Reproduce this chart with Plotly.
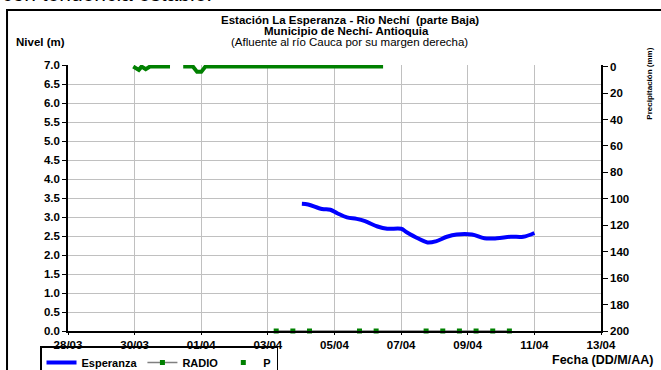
import plotly.graph_objects as go

# --- DATA ---
# Esperanza level (m)
esp_time = [
    "2011-04-04 00:30", "2011-04-04 05:00", "2011-04-04 15:00", "2011-04-04 21:00",
    "2011-04-05 02:00", "2011-04-05 09:00", "2011-04-05 16:00", "2011-04-05 22:00",
    "2011-04-06 07:00", "2011-04-06 14:00", "2011-04-07 00:00", "2011-04-07 04:00",
    "2011-04-07 12:00", "2011-04-07 19:00", "2011-04-08 01:00", "2011-04-08 09:00",
    "2011-04-08 16:00", "2011-04-09 03:00", "2011-04-09 12:00", "2011-04-09 21:00",
    "2011-04-10 07:00", "2011-04-10 16:00", "2011-04-11 00:00",
]
esp_level = [
    3.35, 3.33, 3.21, 3.19, 3.10, 2.99, 2.95, 2.89, 2.75, 2.69, 2.69, 2.60,
    2.44, 2.33, 2.36, 2.48, 2.54, 2.54, 2.44, 2.44, 2.48, 2.48, 2.58,
]

# RADIO readings (plotted at 0 m)
radio_time = [
    "2011-04-03 06:00", "2011-04-03 18:00", "2011-04-04 06:00", "2011-04-05 18:00",
    "2011-04-06 06:00", "2011-04-07 18:00", "2011-04-08 06:00", "2011-04-08 18:00",
    "2011-04-09 06:00", "2011-04-09 18:00", "2011-04-10 06:00",
]
radio_level = [0, 0, 0, 0, 0, 0, 0, 0, 0, 0, 0]

# Precipitation P (mm), two recorded stretches
p_time_a = ["2011-03-29 23:00", "2011-03-30 03:00", "2011-03-30 05:00",
            "2011-03-30 08:00", "2011-03-30 11:00", "2011-03-31 01:30"]
p_mm_a = [0, 2.5, 0, 2.0, 0, 0]
p_time_b = ["2011-03-31 11:00", "2011-03-31 18:00", "2011-03-31 21:00",
            "2011-04-01 00:00", "2011-04-01 03:00", "2011-04-06 11:00"]
p_mm_b = [0, 0, 4.0, 4.0, 0, 0]

x_range = ["2011-03-28", "2011-04-13"]
left_ticks = [0, 0.5, 1, 1.5, 2, 2.5, 3, 3.5, 4, 4.5, 5, 5.5, 6, 6.5, 7]
right_ticks = [0, 20, 40, 60, 80, 100, 120, 140, 160, 180, 200]

FONT = "Arial, Liberation Sans, sans-serif"
GREEN = "#008000"
BLUE = "#0000FF"
BOLD = dict(family=FONT, size=11.5, color="black", weight="bold")

fig = go.Figure()

# P (precipitation) drawn as a thick green band on the reversed right axis
for t, v in [(p_time_a, p_mm_a), (p_time_b, p_mm_b)]:
    fig.add_trace(go.Scatter(
        x=t, y=v, yaxis="y2", mode="lines",
        line=dict(color=GREEN, width=4),
        showlegend=False, hoverinfo="skip",
    ))

fig.add_trace(go.Scatter(
    x=esp_time, y=esp_level, mode="lines", name="Esperanza",
    line=dict(color=BLUE, width=4, shape="spline"),
))

fig.add_trace(go.Scatter(
    x=radio_time, y=radio_level, mode="lines+markers", name="RADIO",
    line=dict(color="#808080", width=1.5),
    marker=dict(color=GREEN, size=5, symbol="square"),
    cliponaxis=False,
))

# legend entry for P
fig.add_trace(go.Scatter(
    x=[None], y=[None], mode="markers", name="P",
    marker=dict(color=GREEN, size=5, symbol="square"),
))

fig.update_layout(
    width=661, height=370,
    margin=dict(l=68, r=60, t=65, b=39, autoexpand=False),
    plot_bgcolor="white", paper_bgcolor="white",
    font=dict(family=FONT, size=11, color="black"),
    showlegend=True,
    legend=dict(
        orientation="h", x=-0.0525, y=-0.058, xanchor="left", yanchor="top",
        bordercolor="black", borderwidth=1.5, bgcolor="rgba(0,0,0,0)",
        font=dict(family=FONT, size=11, color="black", weight="bold"),
        tracegroupgap=0, itemwidth=30,
    ),
    xaxis=dict(
        type="date", range=x_range, tickformat="%d/%m",
        dtick=2 * 86400000, tick0="2011-03-28",
        showgrid=True, gridcolor="#c0c0c0", gridwidth=1.2,
        showline=True, linecolor="black", linewidth=1.5,
        ticks="outside", ticklen=2, tickcolor="black",
        tickfont=BOLD, zeroline=False,
    ),
    yaxis=dict(
        range=[0, 7], tickvals=left_ticks, tickformat=".1f",
        showgrid=True, gridcolor="#c0c0c0", gridwidth=1.2,
        showline=True, linecolor="black", linewidth=1.5,
        ticks="outside", ticklen=4, tickcolor="black",
        tickfont=BOLD, zeroline=False,
    ),
    yaxis2=dict(
        overlaying="y", side="right", range=[200, -1.2], tickvals=right_ticks,
        showgrid=False, showline=True, linecolor="black", linewidth=1.5,
        ticks="outside", ticklen=5, tickcolor="black",
        tickfont=BOLD, zeroline=False,
    ),
)

# outer frame
fig.add_shape(type="rect", xref="paper", yref="paper",
              x0=-0.1144, x1=1.25, y0=-0.3, y1=1.2068,
              line=dict(color="black", width=2), layer="below")

annotations = [
    dict(text="con tendencia estable.", x=-0.128, y=1.217, xanchor="left", yanchor="bottom",
         font=dict(size=21, family=FONT)),
    dict(text="<b>Estación La Esperanza - Rio Nechí  (parte Baja)</b>", x=0.529, y=1.169,
         xanchor="center", yanchor="middle", font=dict(size=11.5, family=FONT)),
    dict(text="<b>Municipio de Nechí- Antioquia</b>", x=0.523, y=1.128,
         xanchor="center", yanchor="middle", font=dict(size=11.5, family=FONT)),
    dict(text="(Afluente al río Cauca por su margen derecha)", x=0.529, y=1.085,
         xanchor="center", yanchor="middle", font=dict(size=11.5, family=FONT)),
    dict(text="<b>Nivel (m)</b>", x=-0.101, y=1.085, xanchor="left", yanchor="middle",
         font=dict(size=11.5, family=FONT)),
    dict(text="<b>Precipitación (mm)</b>", x=1.092, y=0.93, xanchor="center", yanchor="middle",
         textangle=-90, font=dict(size=8, family=FONT)),
    dict(text="<b>Fecha (DD/M/AA)</b>", x=1.101, y=-0.109, xanchor="right", yanchor="middle",
         font=dict(size=12.5, family=FONT)),
]
for a in annotations:
    fig.add_annotation(xref="paper", yref="paper", showarrow=False, **a)

fig.write_html("out.html", config={"displayModeBar": False},
               post_script="document.body.style.margin='0';")
